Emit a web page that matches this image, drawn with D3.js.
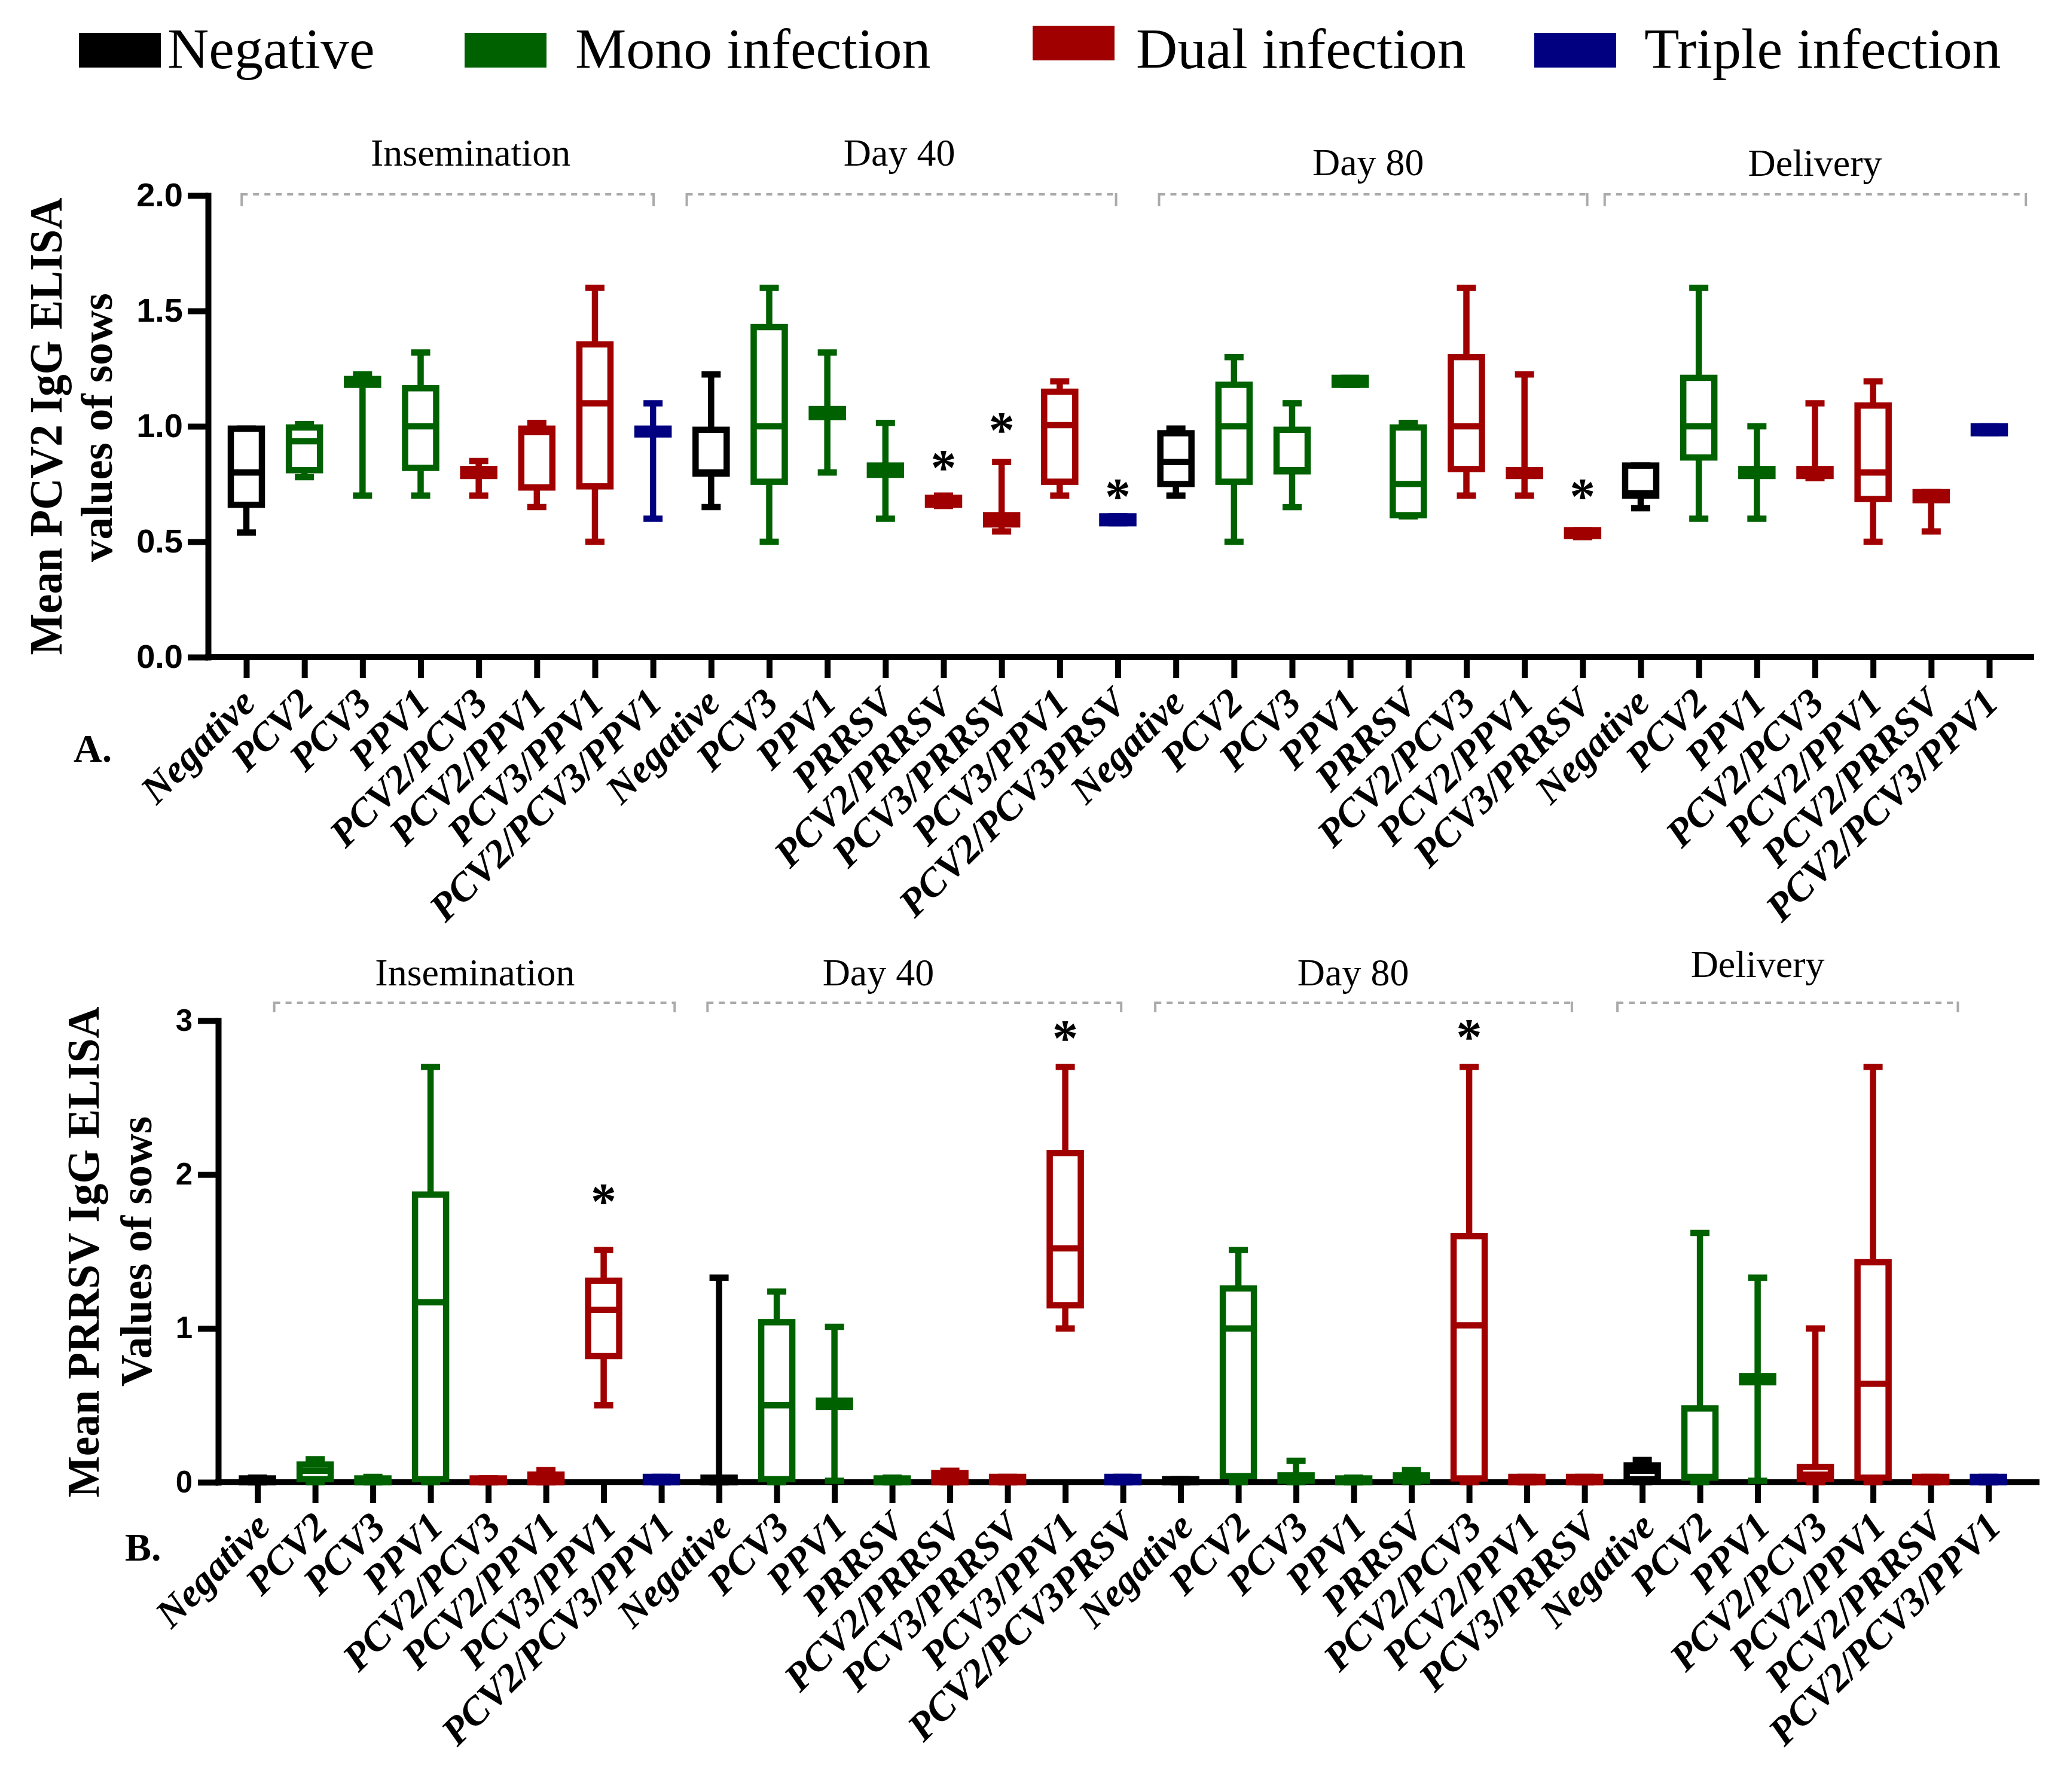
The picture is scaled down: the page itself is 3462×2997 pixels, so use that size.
<!DOCTYPE html>
<html>
<head>
<meta charset="utf-8">
<script src="https://cdn.jsdelivr.net/npm/d3@7"></script>
<style>
  body { margin: 0; background: #fff; }
</style>
</head>
<body>
<div id="chart"></div>
<script>
// categories along the x axis (same list for both panels)
var categories = [
    "Negative", "PCV2", "PCV3", "PPV1", "PCV2/PCV3", "PCV2/PPV1", "PCV3/PPV1", "PCV2/PCV3/PPV1",
    "Negative", "PCV3", "PPV1", "PRRSV", "PCV2/PRRSV", "PCV3/PRRSV", "PCV3/PPV1", "PCV2/PCV3PRSV",
    "Negative", "PCV2", "PCV3", "PPV1", "PRRSV", "PCV2/PCV3", "PCV2/PPV1", "PCV3/PRRSV",
    "Negative", "PCV2", "PPV1", "PCV2/PCV3", "PCV2/PPV1", "PCV2/PRRSV", "PCV2/PCV3/PPV1"
];
var infection = [
    "neg", "mono", "mono", "mono", "dual", "dual", "dual", "triple",
    "neg", "mono", "mono", "mono", "dual", "dual", "dual", "triple",
    "neg", "mono", "mono", "mono", "mono", "dual", "dual", "dual",
    "neg", "mono", "mono", "dual", "dual", "dual", "triple"
];
var stages = ["Insemination", "Day 40", "Day 80", "Delivery"];
var stageFirst = [0, 8, 16, 24];
var stageLast = [7, 15, 23, 30];

var legendKeys = ["neg", "mono", "dual", "triple"];
var legendLabels = ["Negative", "Mono infection", "Dual infection", "Triple infection"];

// [min, q1, median, q3, max]
var pcv2Box = [
    [0.54, 0.66, 0.80, 0.99, 0.99],
    [0.78, 0.81, 0.935, 0.995, 1.01],
    [0.70, 1.18, 1.195, 1.205, 1.225],
    [0.70, 0.82, 1.00, 1.165, 1.32],
    [0.70, 0.785, 0.80, 0.815, 0.85],
    [0.65, 0.735, 0.975, 0.99, 1.015],
    [0.50, 0.74, 1.10, 1.355, 1.60],
    [0.60, 0.965, 0.98, 0.99, 1.10],
    [0.65, 0.795, 0.80, 0.985, 1.225],
    [0.50, 0.76, 1.00, 1.43, 1.60],
    [0.80, 1.04, 1.06, 1.075, 1.32],
    [0.60, 0.79, 0.81, 0.83, 1.015],
    [0.655, 0.66, 0.675, 0.69, 0.70],
    [0.545, 0.575, 0.595, 0.615, 0.845],
    [0.70, 0.76, 1.005, 1.15, 1.195],
    [0.58, 0.58, 0.595, 0.61, 0.61],
    [0.70, 0.75, 0.845, 0.97, 0.99],
    [0.50, 0.76, 1.00, 1.18, 1.30],
    [0.65, 0.805, 0.81, 0.985, 1.10],
    [1.18, 1.18, 1.195, 1.21, 1.21],
    [0.61, 0.615, 0.75, 0.995, 1.015],
    [0.70, 0.815, 1.00, 1.30, 1.60],
    [0.70, 0.785, 0.80, 0.81, 1.225],
    [0.52, 0.525, 0.535, 0.55, 0.55],
    [0.645, 0.70, 0.71, 0.83, 0.83],
    [0.60, 0.865, 1.00, 1.21, 1.60],
    [0.60, 0.785, 0.80, 0.815, 1.00],
    [0.775, 0.785, 0.80, 0.815, 1.10],
    [0.50, 0.685, 0.80, 1.09, 1.195],
    [0.545, 0.68, 0.70, 0.715, 0.715],
    [0.97, 0.97, 0.985, 1.00, 1.00]
];
var prrsvBox = [
    [0, 0, 0.01, 0.025, 0.03],
    [0, 0.02, 0.075, 0.115, 0.15],
    [0, 0, 0.01, 0.025, 0.035],
    [0, 0.02, 1.17, 1.87, 2.70],
    [0, 0, 0.01, 0.025, 0.025],
    [0, 0, 0.03, 0.05, 0.08],
    [0.50, 0.82, 1.12, 1.31, 1.51],
    [0, 0, 0.015, 0.035, 0.035],
    [0, 0, 0.02, 0.03, 1.33],
    [0, 0.02, 0.50, 1.04, 1.24],
    [0.01, 0.49, 0.51, 0.53, 1.01],
    [0, 0, 0.01, 0.025, 0.03],
    [0, 0, 0.04, 0.06, 0.075],
    [0, 0, 0.015, 0.035, 0.035],
    [1.00, 1.15, 1.52, 2.14, 2.70],
    [0, 0, 0.015, 0.035, 0.035],
    [0, 0, 0.01, 0.02, 0.02],
    [0, 0.04, 1.00, 1.26, 1.51],
    [0, 0.01, 0.03, 0.045, 0.14],
    [0, 0, 0.01, 0.025, 0.03],
    [0, 0.01, 0.03, 0.045, 0.08],
    [0, 0.025, 1.02, 1.60, 2.70],
    [0, 0, 0.015, 0.035, 0.035],
    [0, 0, 0.015, 0.035, 0.035],
    [0, 0.02, 0.075, 0.11, 0.145],
    [0, 0.03, 0.035, 0.48, 1.62],
    [0.01, 0.65, 0.67, 0.69, 1.33],
    [0, 0.02, 0.05, 0.10, 1.00],
    [0, 0.03, 0.64, 1.43, 2.70],
    [0, 0, 0.015, 0.035, 0.035],
    [0, 0, 0.015, 0.035, 0.035]
];

var pcv2Ticks = [0, 0.5, 1.0, 1.5, 2.0];
var prrsvTicks = [0, 1, 2, 3];

// significance marks: [category index, value]
var pcv2Stars = [[12, 0.85], [13, 1.015], [15, 0.726], [23, 0.726]];
var prrsvStars = [[6, 1.87], [14, 2.93], [21, 2.94]];

var colors = { neg: "#000000", mono: "#006100", dual: "#a00000", triple: "#000080" };
var serif = "'Liberation Serif', 'Times New Roman', serif";
var sans = "'Liberation Sans', Arial, sans-serif";

var svg = d3.select("#chart").append("svg")
    .attr("width", 3462)
    .attr("height", 2997)
    .style("display", "block");

//Legend
var legX = [132, 777, 1727, 2566];
var legY = [55, 55, 43, 55];
var legTextX = [280, 962, 1900, 2750];
var legend = svg.append("g");
legendKeys.forEach(function (k, i) {
    legend.append("rect")
        .attr("x", legX[i]).attr("y", legY[i])
        .attr("width", 137).attr("height", 58)
        .attr("fill", colors[k]);
    legend.append("text")
        .attr("x", legTextX[i]).attr("y", 114)
        .attr("font-family", serif)
        .attr("font-size", 96)
        .text(legendLabels[i]);
});

function drawPanel(p, stats, ticks, stars, fmt) {
    var g = svg.append("g");
    var x = d3.scalePoint().domain(d3.range(categories.length)).range([p.x0, p.x1]);
    var xi = d3.scaleLinear().domain([0, categories.length - 1]).range([p.x0, p.x1]);
    var y = d3.scaleLinear().domain([0, ticks[ticks.length - 1]]).range([p.yBottom, p.yTop]);

    // stage brackets
    stages.forEach(function (s, i) {
        var a = xi(stageFirst[i] + p.brL[i]), b = xi(stageLast[i] + p.brR[i]);
        g.append("line")
            .attr("x1", a).attr("x2", b).attr("y1", p.brY).attr("y2", p.brY)
            .attr("stroke", "#aaaaaa").attr("stroke-width", 4)
            .attr("stroke-dasharray", "10,9");
        [a, b].forEach(function (e) {
            g.append("line")
                .attr("x1", e).attr("x2", e).attr("y1", p.brY - 2).attr("y2", p.brY + p.brTick)
                .attr("stroke", "#aaaaaa").attr("stroke-width", 4);
        });
        g.append("text")
            .attr("x", xi(p.labPos[i])).attr("y", p.labY[i])
            .attr("text-anchor", "middle")
            .attr("font-family", serif).attr("font-size", 64)
            .text(s);
    });

    // y axis
    var yAxis = g.append("g")
        .attr("transform", "translate(" + p.axisX + ",0)")
        .call(d3.axisLeft(y).tickValues(ticks).tickFormat(fmt).tickSize(34).tickSizeOuter(0).tickPadding(p.tickPad));
    yAxis.select(".domain").attr("stroke-width", 10).attr("stroke-linecap", "square");
    yAxis.selectAll(".tick line").attr("stroke-width", 10);
    yAxis.selectAll(".tick text")
        .attr("font-family", sans).attr("font-weight", "bold").attr("font-size", p.yFont)
        .attr("fill", "#000");

    // x axis
    var xAxis = g.append("g")
        .attr("transform", "translate(0," + p.yBottom + ")")
        .call(d3.axisBottom(x).tickSize(35).tickSizeOuter(0).tickFormat(function (i) { return categories[i]; }));
    xAxis.select(".domain").remove();
    xAxis.selectAll(".tick line").attr("stroke-width", 10);
    xAxis.selectAll(".tick text")
        .attr("y", 0).attr("dy", 0)
        .attr("transform", "translate(" + p.labDx + "," + p.labDy + ") rotate(-45)")
        .attr("text-anchor", "end")
        .attr("font-family", serif).attr("font-weight", "bold").attr("font-style", "italic")
        .attr("font-size", 66).attr("fill", "#000");
    g.append("line")
        .attr("x1", p.axisX - 5).attr("x2", p.axisEnd)
        .attr("y1", p.yBottom).attr("y2", p.yBottom)
        .attr("stroke", "#000").attr("stroke-width", 10);

    // boxes
    var bw = 52, cw = 32, sw = 10.5;
    var box = g.selectAll(".box").data(stats).enter().append("g")
        .attr("class", "box")
        .attr("stroke", function (d, i) { return colors[infection[i]]; })
        .attr("stroke-width", sw)
        .attr("fill", "none");
    box.append("line")
        .attr("x1", function (d, i) { return x(i); }).attr("x2", function (d, i) { return x(i); })
        .attr("y1", function (d) { return y(d[0]); }).attr("y2", function (d) { return y(d[1]); });
    box.append("line")
        .attr("x1", function (d, i) { return x(i); }).attr("x2", function (d, i) { return x(i); })
        .attr("y1", function (d) { return y(d[3]); }).attr("y2", function (d) { return y(d[4]); });
    [0, 4].forEach(function (k) {
        box.append("line")
            .attr("x1", function (d, i) { return x(i) - cw / 2; })
            .attr("x2", function (d, i) { return x(i) + cw / 2; })
            .attr("y1", function (d) { return y(d[k]); }).attr("y2", function (d) { return y(d[k]); });
    });
    box.append("rect")
        .attr("x", function (d, i) { return x(i) - bw / 2; })
        .attr("width", bw)
        .attr("y", function (d) { return y(d[3]); })
        .attr("height", function (d) { return y(d[1]) - y(d[3]); });
    box.append("line")
        .attr("x1", function (d, i) { return x(i) - bw / 2; })
        .attr("x2", function (d, i) { return x(i) + bw / 2; })
        .attr("y1", function (d) { return y(d[2]); }).attr("y2", function (d) { return y(d[2]); });

    // stars
    g.selectAll(".star").data(stars).enter().append("text")
        .attr("x", function (d) { return x(d[0]); })
        .attr("y", function (d) { return y(d[1]); })
        .attr("dy", "0.47em")
        .attr("text-anchor", "middle")
        .attr("font-family", serif).attr("font-weight", "bold").attr("font-size", 86)
        .text("*");

    // y titles
    p.titles.forEach(function (t) {
        g.append("text")
            .attr("transform", "translate(" + t.x + "," + t.y + ") rotate(-90)")
            .attr("text-anchor", "middle")
            .attr("font-family", serif).attr("font-weight", "bold")
            .attr("font-size", t.size)
            .attr("textLength", t.len).attr("lengthAdjust", "spacingAndGlyphs")
            .text(t.text);
    });

    g.append("text")
        .attr("x", p.tagX).attr("y", p.tagY)
        .attr("font-family", serif).attr("font-weight", "bold").attr("font-size", 66)
        .text(p.tag);
}

drawPanel({
    x0: 412, x1: 3327, axisX: 348, axisEnd: 3402, yBottom: 1099, yTop: 327,
    tickPad: 8, yFont: 56,
    brY: 325, brTick: 20,
    brL: [-0.08, -0.42, -0.29, -0.62], brR: [0.01, -0.03, 0.08, 0.63],
    labPos: [3.86, 11.24, 19.31, 27.0], labY: [277, 277, 293, 294],
    labDx: 18, labDy: 80,
    titles: [
        { text: "Mean PCV2 IgG ELISA", x: 103, y: 713, size: 78, len: 765 },
        { text: "values of sows", x: 187, y: 715, size: 74, len: 450 }
    ],
    tag: "A.", tagX: 123, tagY: 1274
}, pcv2Box, pcv2Ticks, pcv2Stars, d3.format(".1f"));

drawPanel({
    x0: 430.6, x1: 3325.6, axisX: 365, axisEnd: 3411, yBottom: 2479, yTop: 1707,
    tickPad: 9, yFont: 51,
    brY: 1677, brTick: 16,
    brL: [0.29, -0.2, -0.44, -0.43], brR: [0.23, -0.03, -0.22, -0.53],
    labPos: [3.77, 10.76, 18.99, 26.0], labY: [1648, 1648, 1648, 1634],
    labDx: 24, labDy: 78,
    titles: [
        { text: "Mean PRRSV IgG ELISA", x: 165, y: 2094, size: 76, len: 821 },
        { text: "Values of sows", x: 253, y: 2093, size: 73, len: 452 }
    ],
    tag: "B.", tagX: 209, tagY: 2610
}, prrsvBox, prrsvTicks, prrsvStars, d3.format("d"));
</script>
</body>
</html>
